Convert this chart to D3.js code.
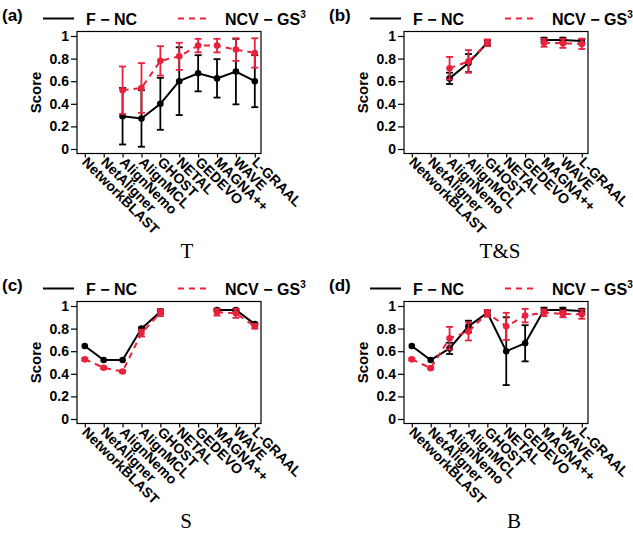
<html>
<script src='https://cdn.jsdelivr.net/npm/d3@7'></script>
<style>
body {margin: 0; background: white;}
text {font-family: 'Liberation Sans', Arial, sans-serif;}
</style>
<body onload='init()'>
<svg width=633 height=534></svg>
<script>
var methods = ['NetworkBLAST', 'NetAligner', 'AlignNemo', 'AlignMCL', 'GHOST', 'NETAL', 'GEDEVO', 'MAGNA++', 'WAVE', 'L-GRAAL']
var yTicks = [0, 0.2, 0.4, 0.6, 0.8, 1]
var panelTags = ['(a)', '(b)', '(c)', '(d)']
var panelTitles = ['T', 'T&S', 'S', 'B']

// F-NC (black) means and error half-widths
var fncT   = [null, null, 0.29, 0.27, 0.40, 0.60, 0.67, 0.625, 0.685, 0.60]
var fncTsd = [null, null, 0.25, 0.25, 0.23, 0.30, 0.16, 0.17, 0.29, 0.23]
var fncTS   = [null, null, 0.625, 0.76, 0.94, null, null, 0.965, 0.965, 0.955]
var fncTSsd = [null, null, 0.05, 0.08, 0.02, null, null, 0.02, 0.02, 0.02]
var fncS   = [0.646, 0.522, 0.522, 0.80, 0.95, null, null, 0.965, 0.965, 0.84]
var fncSsd = [0, 0, 0, 0.01, 0.02, null, null, 0.01, 0.01, 0.01]
var fncB   = [0.646, 0.522, 0.625, 0.82, 0.94, 0.60, 0.67, 0.965, 0.965, 0.955]
var fncBsd = [0, 0, 0.05, 0.05, 0.02, 0.30, 0.16, 0.02, 0.02, 0.02]

// NCV-GS3 (red)
var ncvT   = [null, null, 0.52, 0.54, 0.78, 0.82, 0.915, 0.915, 0.88, 0.85]
var ncvTsd = [null, null, 0.21, 0.22, 0.13, 0.12, 0.06, 0.06, 0.10, 0.13]
var ncvTS   = [null, null, 0.715, 0.775, 0.94, null, null, 0.94, 0.935, 0.93]
var ncvTSsd = [null, null, 0.10, 0.10, 0.03, null, null, 0.035, 0.04, 0.045]
var ncvS   = [0.528, 0.454, 0.42, 0.76, 0.94, null, null, 0.945, 0.935, 0.82]
var ncvSsd = [0.01, 0.01, 0.01, 0.03, 0.03, null, null, 0.03, 0.04, 0.02]
var ncvB   = [0.528, 0.45, 0.715, 0.775, 0.935, 0.82, 0.915, 0.94, 0.93, 0.927]
var ncvBsd = [0.01, 0.01, 0.10, 0.08, 0.03, 0.12, 0.06, 0.03, 0.03, 0.04]

var fncAll = [[fncT, fncTsd], [fncTS, fncTSsd], [fncS, fncSsd], [fncB, fncBsd]]
var ncvAll = [[ncvT, ncvTsd], [ncvTS, ncvTSsd], [ncvS, ncvSsd], [ncvB, ncvBsd]]

function init() {
  var svg = d3.select('svg')
  var red = '#e8213d'
  var offsets = [[0, 0], [327, 0], [0, 270], [327, 270]]
  var titleX = [187, 173, 186, 187]

  var box = {left: 77, right: 261, top: 31.5, bottom: 153.5}
  var x = d3.scaleLinear().domain([0, 9]).range([84.8, 254.8])
  var y = d3.scaleLinear().domain([0, 1]).range([149, 36])

  for (var p = 0; p < 4; p++) {
    var g = svg.append('g')
      .attr('transform', 'translate(' + offsets[p][0] + ',' + offsets[p][1] + ')')

    g.append('text').attr('x', 2).attr('y', 21)
      .attr('font-size', 17).attr('font-weight', 'bold')
      .text(panelTags[p])

    // legend
    g.append('line').attr('x1', 43).attr('x2', 74).attr('y1', 18.5).attr('y2', 18.5)
      .attr('stroke', 'black').attr('stroke-width', 2)
    g.append('text').attr('x', 86).attr('y', 24.5)
      .attr('font-size', 16).attr('font-weight', 'bold')
      .text('F \u2212 NC')
    g.append('line').attr('x1', 178).attr('x2', 211).attr('y1', 18.5).attr('y2', 18.5)
      .attr('stroke', red).attr('stroke-width', 2).attr('stroke-dasharray', '6,5')
    var lt = g.append('text').attr('x', 225).attr('y', 24.5)
      .attr('font-size', 16).attr('font-weight', 'bold')
    lt.append('tspan').text('NCV \u2212 GS')
    lt.append('tspan').attr('font-size', 10).attr('dy', -7).text('3')

    // box
    g.append('rect')
      .attr('x', box.left).attr('y', box.top)
      .attr('width', box.right - box.left).attr('height', box.bottom - box.top)
      .attr('fill', 'none').attr('stroke', 'black').attr('stroke-width', 1.2)

    var yAxis = g.append('g')
      .attr('transform', 'translate(' + box.left + ',0)')
      .call(d3.axisLeft(y).tickValues(yTicks).tickSize(6).tickPadding(2).tickFormat(d3.format('~g')))
    yAxis.select('.domain').remove()
    yAxis.selectAll('text').attr('font-size', 14).attr('font-weight', 'bold')
      .attr('font-family', 'Liberation Sans, Arial, sans-serif').attr('fill', 'black')
    yAxis.selectAll('line').attr('stroke-width', 1.2)

    var xAxis = g.append('g')
      .attr('transform', 'translate(0,' + box.bottom + ')')
      .call(d3.axisBottom(x).tickValues(d3.range(methods.length)).tickSize(4).tickFormat(''))
    xAxis.select('.domain').remove()
    xAxis.selectAll('line').attr('stroke-width', 1.2)

    g.selectAll('.xlab')
      .data(methods)
      .enter()
      .append('text')
      .attr('transform', function(d, i) {
        return 'translate(' + x(i) + ',' + (box.bottom + 6) + ') rotate(45)'
      })
      .attr('dominant-baseline', 'central')
      .attr('font-size', 14).attr('font-weight', 'bold')
      .text(function(d) { return d })

    g.append('text')
      .attr('transform', 'translate(41,' + ((box.top + box.bottom) / 2) + ') rotate(-90)')
      .attr('text-anchor', 'middle')
      .attr('font-size', 15).attr('font-weight', 'bold')
      .text('Score')

    g.append('text')
      .attr('x', titleX[p]).attr('y', 258)
      .attr('text-anchor', 'middle')
      .attr('font-family', 'Liberation Serif, Times New Roman, serif')
      .style('font-family', 'Liberation Serif, serif')
      .attr('font-size', 21)
      .text(panelTitles[p])

    drawSeries(g, fncAll[p][0], fncAll[p][1], 'black', null, x, y)
    drawSeries(g, ncvAll[p][0], ncvAll[p][1], red, '6,5', x, y)
  }
}

function drawSeries(g, vals, sds, color, dash, x, y) {
  var pts = vals.map(function(v, i) { return {i: i, v: v, sd: sds[i]} })
  var line = d3.line()
    .defined(function(d) { return d.v != null })
    .x(function(d) { return x(d.i) })
    .y(function(d) { return y(d.v) })

  g.append('path')
    .datum(pts)
    .attr('d', line)
    .attr('fill', 'none')
    .attr('stroke', color)
    .attr('stroke-width', 2)
    .attr('stroke-dasharray', dash)

  var real = pts.filter(function(d) { return d.v != null })
  var bars = g.append('g').attr('stroke', color).attr('stroke-width', 1.8)
  real.forEach(function(d) {
    if (!d.sd) return
    var lo = y(d.v - d.sd), hi = y(d.v + d.sd)
    bars.append('line').attr('x1', x(d.i)).attr('x2', x(d.i)).attr('y1', lo).attr('y2', hi)
    bars.append('line').attr('x1', x(d.i) - 3.5).attr('x2', x(d.i) + 3.5).attr('y1', lo).attr('y2', lo)
    bars.append('line').attr('x1', x(d.i) - 3.5).attr('x2', x(d.i) + 3.5).attr('y1', hi).attr('y2', hi)
  })

  g.selectAll(null)
    .data(real)
    .enter()
    .append('circle')
    .attr('cx', function(d) { return x(d.i) })
    .attr('cy', function(d) { return y(d.v) })
    .attr('r', 3.3)
    .attr('fill', color)
}
</script>
</body>
</html>
